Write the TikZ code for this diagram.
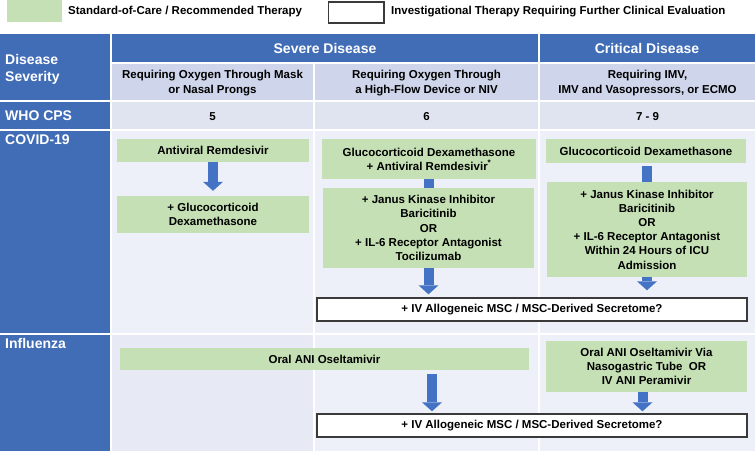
\documentclass[tikz,border=0pt]{standalone}
\usepackage{fontspec}
\setmainfont{Liberation Sans}
\usetikzlibrary{arrows.meta,calc}
\definecolor{hdrblue}{HTML}{416DB7}
\definecolor{arrblue}{HTML}{4472C4}
\definecolor{subhdr}{HTML}{CFD5EA}
\definecolor{cpsrow}{HTML}{E0E4F0}
\definecolor{bodyrow}{HTML}{EDF0F8}
\definecolor{flurow}{HTML}{E7EAF4}
\definecolor{soc}{HTML}{C5E0B4}
\definecolor{invborder}{HTML}{3A3A3A}
\newcommand\bodyfnt{\bfseries\fontsize{11.5}{14.2}\selectfont}
\newcommand\hdrfnt{\bfseries\fontsize{14}{17}\selectfont}
\begin{document}
\begin{tikzpicture}[x=1pt,y=-1pt,
  txt/.style={inner sep=0pt, align=center, font=\bodyfnt, text=black},
  wtxt/.style={inner sep=0pt, font=\hdrfnt, text=white},
  socbox/.style={txt, fill=soc},
  invbox/.style={txt, fill=white, draw=invborder, line width=1.4pt},
  barrow/.style={draw=arrblue, line width=10pt, line cap=butt,
     -{Triangle[width=20pt,length=9pt,line width=0pt]}},
  conn/.style={draw=arrblue, line width=10pt, line cap=butt}]
\useasboundingbox (0,0) rectangle (755,451);
% legend
\fill[soc] (7,0) rectangle (62,22);
\node[txt, anchor=west] (lg1) at (68,12) {Standard-of-Care / Recommended Therapy};
\draw[invborder, line width=1.2pt, fill=white] (328.5,2) rectangle (384,23);
\node[txt, anchor=west] (lg2) at (391,12) {Investigational Therapy Requiring Further Clinical Evaluation};
% table cells
\fill[hdrblue] (0,34) rectangle (110,100);
\fill[hdrblue] (0,102) rectangle (110,129);
\fill[hdrblue] (0,131) rectangle (110,333);
\fill[hdrblue] (0,335) rectangle (110,451);
\fill[hdrblue] (112,34) rectangle (538,62);
\fill[hdrblue] (540,34) rectangle (755,62);
\fill[subhdr] (112,64) rectangle (313,100);
\fill[subhdr] (315,64) rectangle (538,100);
\fill[subhdr] (540,64) rectangle (755,100);
\fill[cpsrow] (112,102) rectangle (313,129);
\fill[cpsrow] (315,102) rectangle (538,129);
\fill[cpsrow] (540,102) rectangle (755,129);
\fill[bodyrow] (112,131) rectangle (313,333);
\fill[bodyrow] (315,131) rectangle (538,333);
\fill[bodyrow] (540,131) rectangle (755,333);
\fill[flurow] (112,335) rectangle (313,451);
\fill[bodyrow] (315,335) rectangle (538,451);
\fill[bodyrow] (540,335) rectangle (755,451);
% header texts
\node[wtxt, align=left, anchor=west] (ds) at (5,69) {Disease\\Severity};
\node[wtxt, anchor=base west] (cps) at (5,120.5) {WHO CPS};
\node[wtxt, anchor=base west] (cov) at (5,144) {COVID-19};
\node[wtxt, anchor=base west] (flu) at (5,348) {Influenza};
\node[wtxt, anchor=base] (sev) at (325,53.5) {Severe Disease};
\node[wtxt, anchor=base] (crit) at (647,53.5) {Critical Disease};
\node[txt] (sh1) at (212.5,83) {Requiring Oxygen Through Mask\\or Nasal Prongs};
\node[txt] (sh2) at (426.5,83) {Requiring Oxygen Through\\a High-Flow Device or NIV};
\node[txt] (sh3) at (647.5,83) {Requiring IMV,\\IMV and Vasopressors, or ECMO};
\node[txt, anchor=base] (n5) at (212.5,120) {5};
\node[txt, anchor=base] (n6) at (426.5,120) {6};
\node[txt, anchor=base] (n79) at (647.5,120) {7 - 9};
% COVID-19 column 1
\node[socbox, minimum width=192pt, minimum height=23pt] (rem1) at (213,150.5) {Antiviral Remdesivir};
\node[socbox, minimum width=192pt, minimum height=37pt] (dex1) at (213,214.5) {+ Glucocorticoid\\Dexamethasone};
\draw[barrow] (rem1.south) -- ([yshift=5pt]dex1.north);
% COVID-19 column 2
\node[socbox, minimum width=214pt, minimum height=40pt] (gd2) at (429,159) {Glucocorticoid Dexamethasone\\+ Antiviral Remdesivir\textsuperscript{*}};
\node[socbox, minimum width=211pt, minimum height=80pt] (jak2) at (428.5,228) {+ Janus Kinase Inhibitor\\Baricitinib\\OR\\+ IL-6 Receptor Antagonist\\Tocilizumab};
\draw[conn] (gd2.south) -- (gd2.south |- jak2.north);
% COVID-19 column 3
\node[socbox, minimum width=200pt, minimum height=24pt] (gd3) at (646,151) {Glucocorticoid Dexamethasone};
\node[socbox, minimum width=200pt, minimum height=95pt] (jak3) at (647,229.5) {+ Janus Kinase Inhibitor\\Baricitinib\\OR\\+ IL-6 Receptor Antagonist\\Within 24 Hours of ICU\\Admission};
\draw[conn] ([yshift=-3pt]jak3.north |- gd3.south) -- (jak3.north);
% investigational COVID
\node[invbox, minimum width=430pt, minimum height=23pt] (msc1) at (532,309.5) {+ IV Allogeneic MSC / MSC-Derived Secretome?};
\draw[barrow] (jak2.south) -- ([yshift=3pt]jak2.south |- msc1.north);
\draw[barrow] (jak3.south) -- ([yshift=7pt]jak3.south |- msc1.north);
% Influenza
\node[socbox, minimum width=409pt, minimum height=22pt] (osel) at (324.5,359) {Oral ANI Oseltamivir};
\node[socbox, minimum width=201pt, minimum height=51pt] (osel3) at (646.5,366.5) {Oral ANI Oseltamivir Via\\Nasogastric Tube\ \ OR\\IV ANI Peramivir};
\node[invbox, minimum width=430pt, minimum height=23pt] (msc2) at (532,425.5) {+ IV Allogeneic MSC / MSC-Derived Secretome?};
\coordinate (oa) at (432,374);
\draw[barrow] (oa) -- ([yshift=2pt]oa |- msc2.north);
\coordinate (ob) at (642.5,392);
\draw[barrow] (ob) -- ([yshift=2pt]ob |- msc2.north);
\end{tikzpicture}
\end{document}
